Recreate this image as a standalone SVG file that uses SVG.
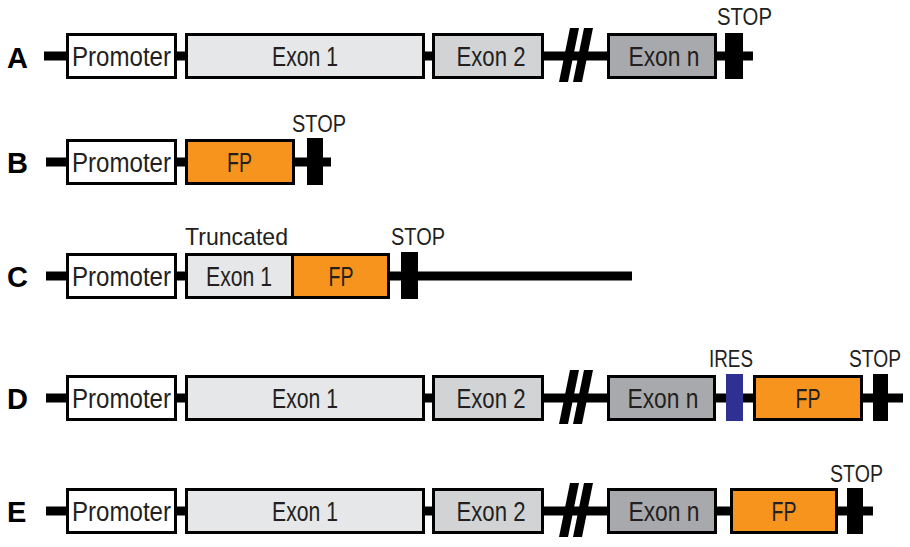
<svg xmlns="http://www.w3.org/2000/svg" width="910" height="547" viewBox="0 0 910 547">
<style>
.bb{stroke:#000;stroke-width:9;fill:none}
.box{stroke:#000;stroke-width:3}
.pr{fill:#fff}
.e1{fill:#e6e7e8}
.e2{fill:#d1d3d4}
.en{fill:#a7a9ac}
.fp{fill:#f7941d}
.ires{fill:#2e3192}
.stop{fill:#000}
.t{font-family:"Liberation Sans",Arial,sans-serif;font-size:27px;fill:#231f20;text-anchor:middle}
.s{font-family:"Liberation Sans",Arial,sans-serif;font-size:23px;fill:#231f20}
.tr{font-family:"Liberation Sans",Arial,sans-serif;font-size:24px;fill:#231f20}
.lab{font-family:"Liberation Sans",Arial,sans-serif;font-size:29px;font-weight:bold;fill:#000}
</style>
<defs>
<g id="slash">
<polygon points="570,-28 579,-28 568,26 559,26" fill="#000"/>
<polygon points="584,-28 593,-28 582,26 573,26" fill="#000"/>
</g>
</defs>

<g id="connectors">
<line class="bb" x1="44" y1="56" x2="753" y2="56"/>
<line class="bb" x1="46" y1="162" x2="331" y2="162"/>
<line class="bb" x1="46" y1="276" x2="632" y2="276"/>
<line class="bb" x1="46" y1="398" x2="903" y2="398"/>
<line class="bb" x1="46" y1="511" x2="873" y2="511"/>
</g>

<!-- Row A -->
<g id="rowA">
<text class="lab" x="7" y="68">A</text>
<g id="A-promoter"><rect class="box pr" x="67.5" y="34.5" width="108" height="43"/><text class="t" x="121.5" y="66" textLength="99" lengthAdjust="spacingAndGlyphs">Promoter</text></g>
<g id="A-exon1"><rect class="box e1" x="186.5" y="34.5" width="237" height="43"/><text class="t" x="305" y="66" textLength="66" lengthAdjust="spacingAndGlyphs">Exon 1</text></g>
<g id="A-exon2"><rect class="box e2" x="433.5" y="34.5" width="109" height="43"/><text class="t" x="491" y="66" textLength="69" lengthAdjust="spacingAndGlyphs">Exon 2</text></g>
<use href="#slash" transform="translate(0,56)"/>
<g id="A-exonn"><rect class="box en" x="608.5" y="34.5" width="107" height="43"/><text class="t" x="664" y="66" textLength="71" lengthAdjust="spacingAndGlyphs">Exon n</text></g>
<g id="A-stop"><rect class="stop" x="725" y="33" width="18" height="46"/><text class="s" x="717" y="25" textLength="55" lengthAdjust="spacingAndGlyphs">STOP</text></g>
</g>

<!-- Row B -->
<g id="rowB">
<text class="lab" x="7" y="173">B</text>
<g id="B-promoter"><rect class="box pr" x="67.5" y="140.5" width="108" height="43"/><text class="t" x="121.5" y="172" textLength="99" lengthAdjust="spacingAndGlyphs">Promoter</text></g>
<g id="B-fp"><rect class="box fp" x="186.5" y="140.5" width="107" height="43"/><text class="t" x="239.5" y="172" textLength="25" lengthAdjust="spacingAndGlyphs">FP</text></g>
<g id="B-stop"><rect class="stop" x="307" y="138" width="16" height="47"/><text class="s" x="292" y="132" textLength="54" lengthAdjust="spacingAndGlyphs">STOP</text></g>
</g>

<!-- Row C -->
<g id="rowC">
<text class="lab" x="7" y="287">C</text>
<g id="C-promoter"><rect class="box pr" x="67.5" y="254.5" width="108" height="43"/><text class="t" x="121.5" y="286" textLength="99" lengthAdjust="spacingAndGlyphs">Promoter</text></g>
<g id="C-exon1"><rect class="box e1" x="186.5" y="254.5" width="106" height="43"/><text class="t" x="239" y="286" textLength="66" lengthAdjust="spacingAndGlyphs">Exon 1</text><text class="tr" x="185" y="245" textLength="103" lengthAdjust="spacingAndGlyphs">Truncated</text></g>
<g id="C-fp"><rect class="box fp" x="292.5" y="254.5" width="96" height="43"/><text class="t" x="341" y="286" textLength="25" lengthAdjust="spacingAndGlyphs">FP</text></g>
<g id="C-stop"><rect class="stop" x="401" y="252" width="17" height="47"/><text class="s" x="391" y="245" textLength="54" lengthAdjust="spacingAndGlyphs">STOP</text></g>
</g>

<!-- Row D -->
<g id="rowD">
<text class="lab" x="7" y="409">D</text>
<g id="D-promoter"><rect class="box pr" x="67.5" y="376.5" width="108" height="43"/><text class="t" x="121.5" y="408" textLength="99" lengthAdjust="spacingAndGlyphs">Promoter</text></g>
<g id="D-exon1"><rect class="box e1" x="186.5" y="376.5" width="237" height="43"/><text class="t" x="305" y="408" textLength="66" lengthAdjust="spacingAndGlyphs">Exon 1</text></g>
<g id="D-exon2"><rect class="box e2" x="433.5" y="376.5" width="109" height="43"/><text class="t" x="491" y="408" textLength="69" lengthAdjust="spacingAndGlyphs">Exon 2</text></g>
<use href="#slash" transform="translate(0,398)"/>
<g id="D-exonn"><rect class="box en" x="608.5" y="376.5" width="106" height="43"/><text class="t" x="663" y="408" textLength="71" lengthAdjust="spacingAndGlyphs">Exon n</text></g>
<g id="D-ires"><rect class="ires" x="726" y="374" width="17" height="47"/><text class="s" x="709" y="367" textLength="44" lengthAdjust="spacingAndGlyphs">IRES</text></g>
<g id="D-fp"><rect class="box fp" x="754.5" y="376.5" width="107" height="43"/><text class="t" x="808" y="408" textLength="25" lengthAdjust="spacingAndGlyphs">FP</text></g>
<g id="D-stop"><rect class="stop" x="873" y="374" width="15" height="47"/><text class="s" x="849" y="367" textLength="52" lengthAdjust="spacingAndGlyphs">STOP</text></g>
</g>

<!-- Row E -->
<g id="rowE">
<text class="lab" x="7" y="522">E</text>
<g id="E-promoter"><rect class="box pr" x="67.5" y="489.5" width="108" height="43"/><text class="t" x="121.5" y="521" textLength="99" lengthAdjust="spacingAndGlyphs">Promoter</text></g>
<g id="E-exon1"><rect class="box e1" x="186.5" y="489.5" width="237" height="43"/><text class="t" x="305" y="521" textLength="66" lengthAdjust="spacingAndGlyphs">Exon 1</text></g>
<g id="E-exon2"><rect class="box e2" x="433.5" y="489.5" width="109" height="43"/><text class="t" x="491" y="521" textLength="69" lengthAdjust="spacingAndGlyphs">Exon 2</text></g>
<use href="#slash" transform="translate(0,511)"/>
<g id="E-exonn"><rect class="box en" x="608.5" y="489.5" width="107" height="43"/><text class="t" x="664" y="521" textLength="71" lengthAdjust="spacingAndGlyphs">Exon n</text></g>
<g id="E-fp"><rect class="box fp" x="731.5" y="489.5" width="105" height="43"/><text class="t" x="784" y="521" textLength="25" lengthAdjust="spacingAndGlyphs">FP</text></g>
<g id="E-stop"><rect class="stop" x="847" y="488" width="16" height="46"/><text class="s" x="830" y="482" textLength="53" lengthAdjust="spacingAndGlyphs">STOP</text></g>
</g>
</svg>
